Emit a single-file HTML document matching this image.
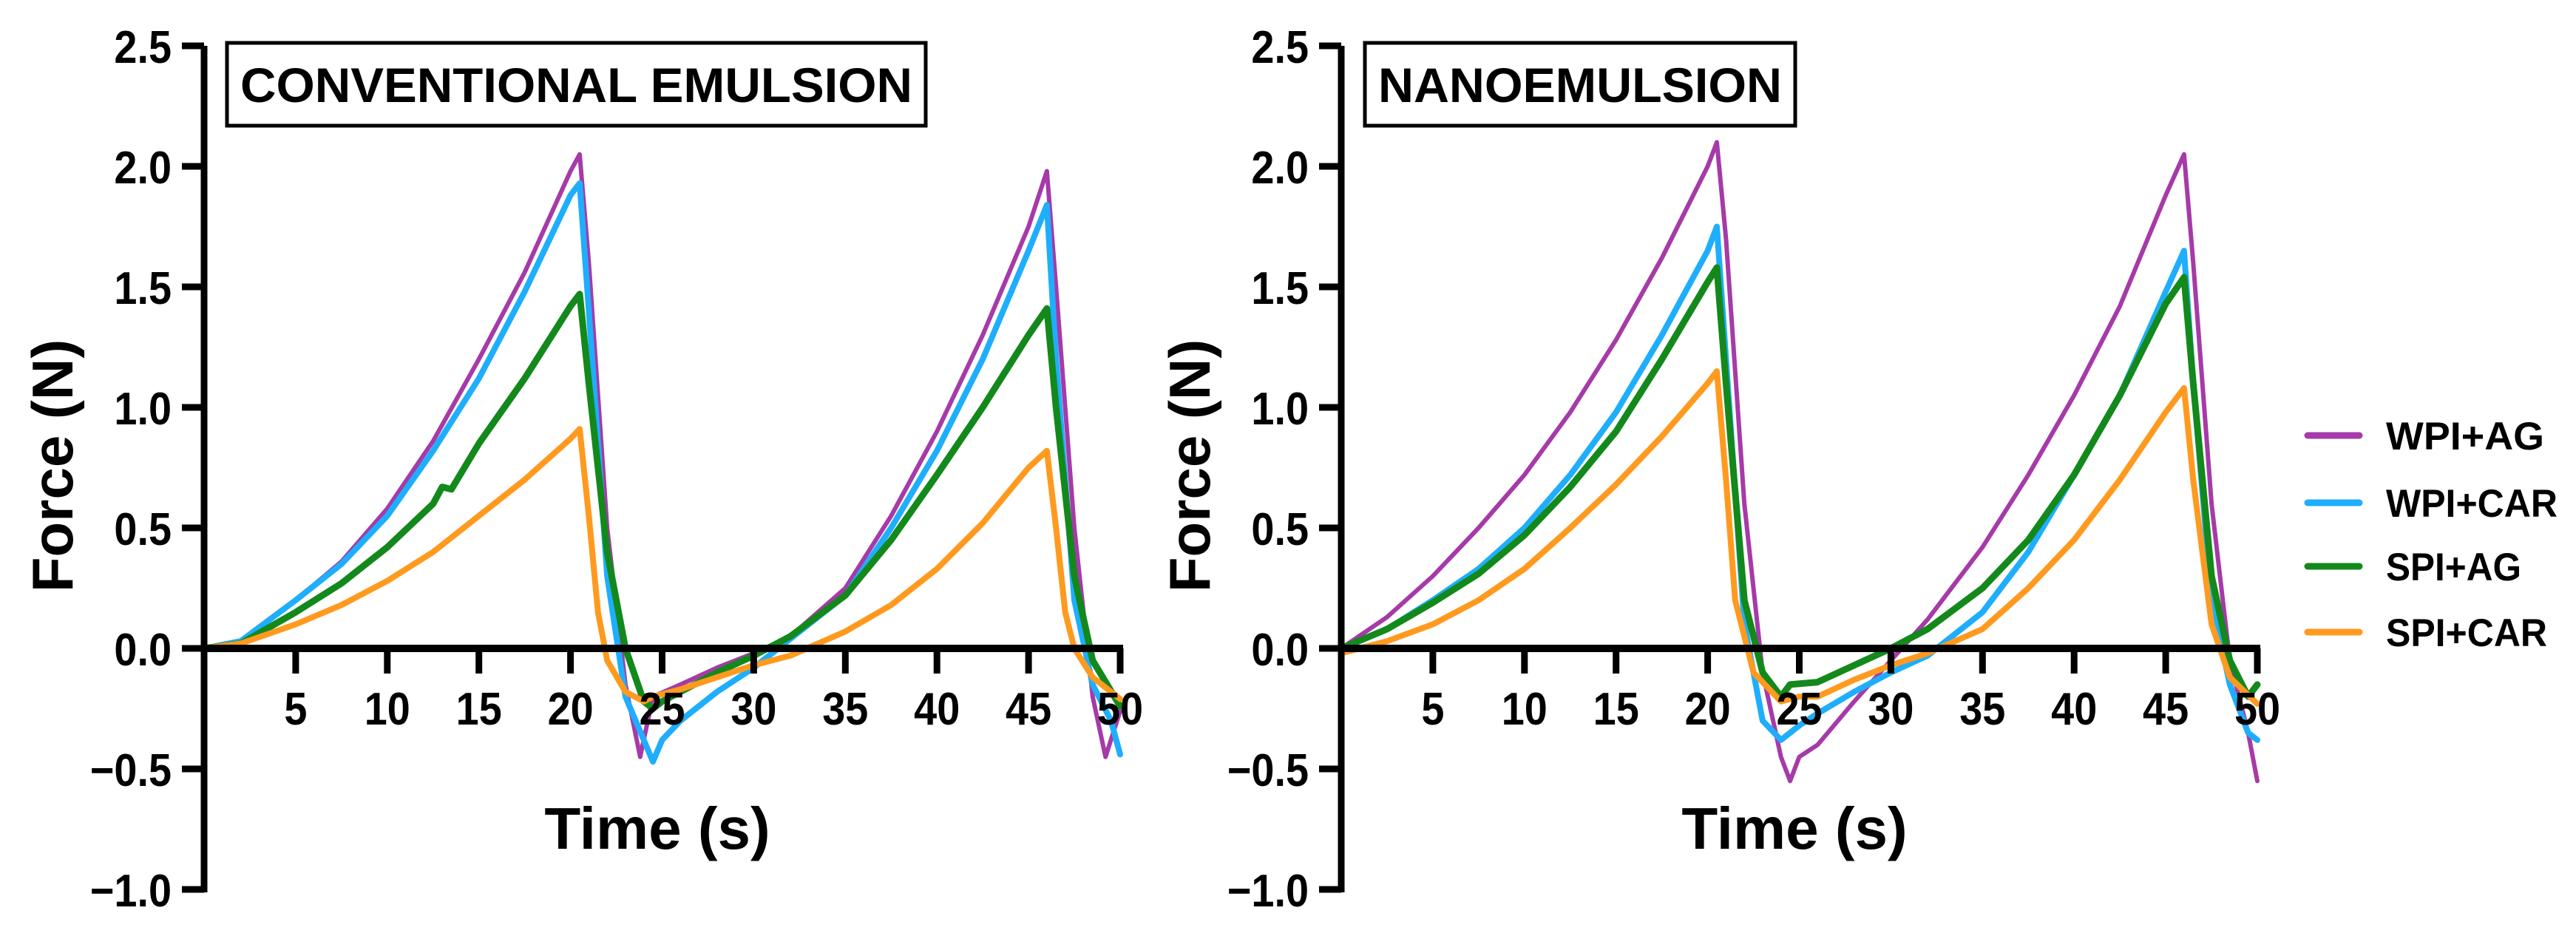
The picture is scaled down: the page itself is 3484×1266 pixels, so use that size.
<!DOCTYPE html>
<html><head><meta charset="utf-8">
<style>
html,body{margin:0;padding:0;background:#fff;}
svg{display:block;}
text{font-family:"Liberation Sans",sans-serif;font-weight:bold;fill:#000;}
</style></head>
<body>
<svg id="chart" width="3484" height="1266" viewBox="0 0 3484 1266" xmlns="http://www.w3.org/2000/svg"></svg>
<script>
const seriesNames = ["WPI+AG","WPI+CAR","SPI+AG","SPI+CAR"];
const seriesColors = ["#a63aa8","#1eaefc","#13891c","#ff9a1f"];
const seriesWidths = [6,8,9,8];
const yTicks = [2.5,2.0,1.5,1.0,0.5,0.0,-0.5,-1.0];
const yTickLabels = ["2.5","2.0","1.5","1.0","0.5","0.0","\u22120.5","\u22121.0"];
const xTicks = [5,10,15,20,25,30,35,40,45,50];
const xTickLabels = ["5","10","15","20","25","30","35","40","45","50"];
const panelTitles = ["CONVENTIONAL EMULSION","NANOEMULSION"];

// Conventional emulsion
const convWpiAg = [[0,0],[2,0.03],[5,0.2],[7.5,0.36],[10,0.58],[12.5,0.86],[15,1.2],[17.5,1.56],[20,1.98],[20.5,2.05],[21,1.6],[22,0.5],[23,-0.15],[23.8,-0.45],[24.5,-0.2],[26,-0.15],[28,-0.08],[30,-0.02],[32,0.05],[35,0.25],[37.5,0.55],[40,0.9],[42.5,1.3],[45,1.75],[46,1.98],[46.5,1.5],[47.5,0.5],[48.5,-0.2],[49.2,-0.45],[50,-0.26]];
const convWpiCar = [[0,0],[2,0.03],[5,0.2],[7.5,0.35],[10,0.55],[12.5,0.82],[15,1.12],[17.5,1.48],[20,1.88],[20.5,1.93],[21,1.4],[22,0.3],[23,-0.2],[24.5,-0.47],[25,-0.38],[26,-0.3],[28,-0.18],[30,-0.08],[32,0.04],[35,0.22],[37.5,0.5],[40,0.82],[42.5,1.2],[45,1.65],[46,1.84],[46.5,1.2],[47.5,0.2],[48.5,-0.15],[49.5,-0.3],[50,-0.44]];
const convSpiAg = [[0,0],[2,0.02],[5,0.15],[7.5,0.27],[10,0.42],[12.5,0.6],[13,0.67],[13.5,0.66],[15,0.85],[17.5,1.12],[20,1.42],[20.5,1.47],[21,1.1],[22,0.4],[23,0],[24,-0.22],[24.5,-0.25],[25,-0.22],[26,-0.18],[28,-0.1],[30,-0.03],[32,0.05],[35,0.22],[37.5,0.45],[40,0.72],[42.5,1.0],[45,1.3],[46,1.41],[46.5,1.0],[47.5,0.3],[48.5,-0.05],[50,-0.24]];
const convSpiCar = [[0,0],[2,0.02],[5,0.1],[7.5,0.18],[10,0.28],[12.5,0.4],[15,0.55],[17.5,0.7],[20,0.87],[20.5,0.91],[21,0.55],[21.5,0.15],[22,-0.05],[23,-0.18],[24,-0.22],[24.5,-0.2],[26,-0.17],[28,-0.12],[30,-0.07],[32,-0.03],[35,0.07],[37.5,0.18],[40,0.33],[42.5,0.52],[45,0.75],[46,0.82],[46.5,0.5],[47,0.15],[47.5,0.0],[48.5,-0.12],[50,-0.21]];
// Nanoemulsion
const nanoWpiAg = [[0,0],[2.5,0.13],[5,0.3],[7.5,0.5],[10,0.72],[12.5,0.98],[15,1.28],[17.5,1.62],[20,2.0],[20.5,2.1],[21,1.7],[22,0.6],[23,-0.1],[24,-0.45],[24.5,-0.55],[25,-0.45],[26,-0.4],[28,-0.22],[30,-0.05],[32,0.12],[35,0.42],[37.5,0.72],[40,1.05],[42.5,1.42],[45,1.88],[46,2.05],[46.5,1.6],[47.5,0.6],[48.5,-0.05],[49.5,-0.35],[50,-0.55]];
const nanoWpiCar = [[0,0],[2.5,0.08],[5,0.2],[7.5,0.33],[10,0.5],[12.5,0.72],[15,0.98],[17.5,1.3],[20,1.65],[20.5,1.75],[21,1.2],[22,0.1],[23,-0.3],[24,-0.38],[25,-0.32],[26,-0.27],[28,-0.18],[30,-0.1],[32,-0.03],[35,0.15],[37.5,0.4],[40,0.72],[42.5,1.05],[45,1.48],[46,1.65],[46.5,1.1],[47.5,0.2],[48.5,-0.15],[49.5,-0.35],[50,-0.38]];
const nanoSpiAg = [[0,0],[2.5,0.08],[5,0.19],[7.5,0.31],[10,0.47],[12.5,0.67],[15,0.9],[17.5,1.2],[20,1.52],[20.5,1.58],[21,1.1],[22,0.2],[23,-0.1],[24,-0.2],[24.5,-0.15],[26,-0.14],[28,-0.07],[30,0.0],[32,0.08],[35,0.25],[37.5,0.45],[40,0.72],[42.5,1.05],[45,1.43],[46,1.54],[46.5,1.1],[47.5,0.3],[48.5,-0.05],[49.5,-0.2],[50,-0.15]];
const nanoSpiCar = [[0,-0.02],[2.5,0.03],[5,0.1],[7.5,0.2],[10,0.33],[12.5,0.5],[15,0.68],[17.5,0.88],[20,1.1],[20.5,1.15],[21,0.7],[21.5,0.2],[22.5,-0.1],[24,-0.22],[25,-0.2],[26,-0.2],[28,-0.13],[30,-0.07],[32,-0.02],[35,0.08],[37.5,0.25],[40,0.45],[42.5,0.7],[45,0.98],[46,1.08],[46.5,0.7],[47.5,0.1],[48.5,-0.12],[50,-0.23]];

const panelData = [[convWpiAg,convWpiCar,convSpiAg,convSpiCar],[nanoWpiAg,nanoWpiCar,nanoSpiAg,nanoSpiCar]];
const NS = "http://www.w3.org/2000/svg";
const svg = document.getElementById("chart");
function mk(tag, attrs, parent){const e=document.createElementNS(NS,tag);for(const k in attrs)e.setAttribute(k,attrs[k]);(parent||svg).appendChild(e);return e;}

const panels = [
  {x0:276, titleBox:[307,58,945,112], key:"conventional"},
  {x0:1814, titleBox:[1846,58,582,112], key:"nano"}
];
const XW = 1239, Y0 = 877, YU = 326;
panels.forEach((p,pi)=>{
  const g = mk("g",{});
  
  
  const xs = t => p.x0 + t/50*XW;
  const ys = v => Y0 - v*YU;
  // series
  panelData[pi].forEach((pts,si)=>{
    const d = pts.map((q,i)=>(i?"L":"M")+xs(q[0]).toFixed(1)+" "+ys(q[1]).toFixed(1)).join(" ");
    const path = mk("path",{d:d,fill:"none",stroke:seriesColors[si],"stroke-width":seriesWidths[si],"stroke-linejoin":"round","stroke-linecap":"round"},g);
    
    
  });
  // y axis
  const ya = mk("line",{x1:p.x0,y1:ys(2.5),x2:p.x0,y2:ys(-1)+4,stroke:"#000","stroke-width":9},g);
  
  
  yTicks.forEach((v,i)=>{
    mk("line",{x1:p.x0-30,y1:ys(v),x2:p.x0,y2:ys(v),stroke:"#000","stroke-width":9},g);
    const t = mk("text",{x:p.x0-44,y:ys(v)+23,"text-anchor":"end","font-size":62,transform:"translate("+(p.x0-44)+",0) scale(0.9,1) translate("+(-(p.x0-44))+",0)"},g);
    t.textContent = yTickLabels[i];
    
    
  });
  // x axis
  const xa = mk("line",{x1:p.x0,y1:Y0,x2:xs(50)+4,y2:Y0,stroke:"#000","stroke-width":10},g);
  
  
  xTicks.forEach((v,i)=>{
    mk("line",{x1:xs(v),y1:Y0,x2:xs(v),y2:Y0+34,stroke:"#000","stroke-width":9},g);
    const t = mk("text",{x:xs(v),y:Y0+103,"text-anchor":"middle","font-size":62,transform:"translate("+xs(v)+",0) scale(0.9,1) translate("+(-xs(v))+",0)"},g);
    t.textContent = xTickLabels[i];
    
    
  });
  // axis titles
  const yt = mk("text",{x:0,y:0,"text-anchor":"middle","font-size":78,transform:"translate("+(p.x0-178)+",630) rotate(-90)"},g);
  yt.textContent = "Force (N)";
  
  
  const xt = mk("text",{x:p.x0+613,y:1148,"text-anchor":"middle","font-size":80},g);
  xt.textContent = "Time (s)";
  
  
  // title box
  const b = p.titleBox;
  const r = mk("rect",{x:b[0],y:b[1],width:b[2],height:b[3],fill:"#fff",stroke:"#000","stroke-width":5},g);
  
  
  const tt = mk("text",{x:b[0]+18,y:b[1]+80,"font-size":66,textLength:b[2]-36,lengthAdjust:"spacingAndGlyphs"},g);
  tt.textContent = panelTitles[pi];
  
  
});
// legend
const legY = [589,680,766,855];
const lg = mk("g",{});


seriesNames.forEach((n,i)=>{
  const eg = mk("g",{},lg);
  
  
  mk("line",{x1:3121,y1:legY[i],x2:3191,y2:legY[i],stroke:seriesColors[i],"stroke-width":9,"stroke-linecap":"round"},eg);
  const t = mk("text",{x:3227,y:legY[i]+19,"font-size":53,textLength:[214,232,183,218][i],lengthAdjust:"spacingAndGlyphs"},eg);
  t.textContent = n;
});
</script>
</body></html>
